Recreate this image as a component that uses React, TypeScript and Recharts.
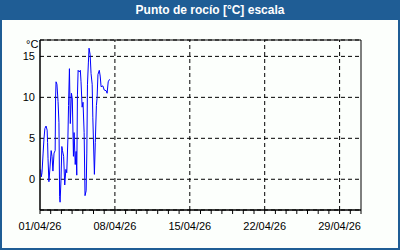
import React from 'react';
import { LineChart, Line, XAxis, YAxis, CartesianGrid, ReferenceLine, ReferenceArea } from 'recharts';

// hours since 01/04/26 00:00
const hours = [
  1.5, 3, 4.5, 7, 9, 11, 13.5, 16, 17, 18, 20, 22.5, 25, 27, 29, 31.5, 34, 35, 36, 38,
  40.5, 42.5, 44, 45, 47, 49, 50.5, 53, 55.5, 58, 60, 62.5, 64, 66, 68, 70.5, 72.5, 75, 76.5, 79,
  81, 82.5, 84, 85.5, 88, 90.5, 92, 94.5, 96.5, 99, 101, 103.5, 105, 106.5, 108.5, 110, 112.5, 114.5, 117, 118.5,
  122, 124, 126.5, 128, 130, 133, 135, 137, 141, 144, 148.5, 150.5, 153, 156,
];
const dewPoint = [
  1.2, 0.3, 0.8, 3.2, 5.0, 6.2, 6.5, 6.0, 4.5, 2.5, -0.3, 1.5, 3.5, 2.8, 1.0, 3.2, 3.5, 10.0, 11.9, 11.6,
  9.5, 6.9, -2.1, -2.8, -0.2, 4.0, 3.5, 2.8, -0.7, 1.2, 0.8, 4.8, 9.0, 13.5, 6.8, 10.5, 9.8, 2.8, 5.7, 1.8,
  3.4, 0.5, 10.3, 13.3, 13.1, 13.3, 11.9, 8.8, 9.4, 5.7, -2.0, -1.4, 3.2, 11.6, 14.2, 16.0, 15.2, 12.9, 11.6, 7.5,
  0.6, 4.5, 9.0, 9.9, 12.8, 13.3, 12.6, 11.3, 11.4, 10.9, 10.8, 10.5, 11.9, 12.2,
];
const dayTicks = [
  0, 24, 48, 72, 96, 120, 144, 168, 192, 216, 240, 264, 288, 312, 336, 360,
  384, 408, 432, 456, 480, 504, 528, 552, 576, 600, 624, 648, 672, 696, 720,
];
const weekTicks = [168, 336, 504, 672];
const weekLabels: Record<number, string> = {
  0: '01/04/26', 168: '08/04/26', 336: '15/04/26', 504: '22/04/26', 672: '29/04/26',
};
const yTicks = [0, 5, 10, 15];

const data = hours.map((h, i) => ({ h, v: dewPoint[i] }));

const font = '"Liberation Sans", Arial, sans-serif';

export default function App() {
  return (
    <div
      style={{
        position: 'absolute', top: 0, left: 0, width: 400, height: 250, boxSizing: 'border-box',
        border: '2px solid #1f5d95', borderTop: 'none', background: '#fcfffc', fontFamily: font,
      }}
    >
      <div
        style={{
          position: 'absolute', top: 0, left: -2, width: 400, height: 20, background: '#1f5d95',
          color: '#fff', fontWeight: 'bold', fontSize: 12, lineHeight: '20px', textAlign: 'center',
          fontFamily: font,
        }}
      >
        <span style={{ position: 'relative', left: 10 }}>Punto de rocío [°C] escala</span>
      </div>
      <div style={{ position: 'absolute', left: 24, top: 38, fontSize: 11, color: '#000' }}>°C</div>
      <div style={{ position: 'absolute', top: 20, left: -2 }}>
        <LineChart width={400} height={230} data={data} margin={{ top: 20, right: 39, bottom: 0, left: 0 }}>
          <CartesianGrid vertical={false} stroke="#000" strokeDasharray="4 3" />
          {weekTicks.map((t) => (
            <ReferenceLine key={t} x={t} stroke="#000" strokeDasharray="4 3" />
          ))}
          <ReferenceArea x1={0} x2={720} y1={-3.75} y2={17} fill="none" stroke="#000" strokeWidth={1} />
          <XAxis
            dataKey="h"
            type="number"
            domain={[0, 720]}
            ticks={dayTicks}
            interval={0}
            tickFormatter={(t: number) => weekLabels[t] || ''}
            height={40}
            tickSize={4}
            tickMargin={8}
            stroke="#000"
            tick={{ fill: '#000', fontSize: 11, fontFamily: font }}
          />
          <YAxis
            type="number"
            domain={[-3.75, 17]}
            ticks={yTicks}
            width={40}
            tickLine={false}
            tickSize={0}
            tickMargin={5}
            stroke="#000"
            tick={{ fill: '#000', fontSize: 11, fontFamily: font }}
          />
          <Line
            dataKey="v"
            type="linear"
            stroke="#0000ff"
            strokeWidth={1}
            dot={false}
            isAnimationActive={false}
          />
        </LineChart>
      </div>
    </div>
  );
}
